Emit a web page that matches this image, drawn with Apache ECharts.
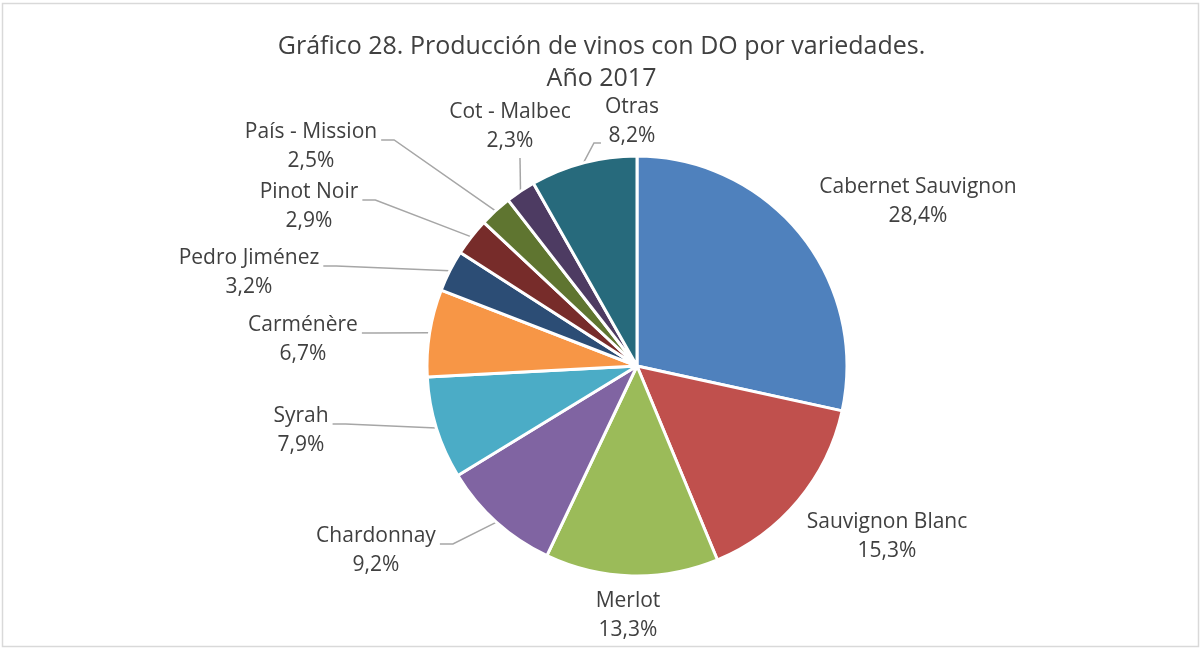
<!DOCTYPE html>
<html>
<head>
<meta charset="utf-8">
<script src="https://cdn.jsdelivr.net/npm/echarts@6/dist/echarts.min.js"></script>
<style>
  html, body { margin: 0; padding: 0; background: #fff; }
  #chart { width: 1203px; height: 651px; }
</style>
</head>
<body>
<div id="chart"></div>
<script>
// Producción de vinos con DO por variedades, 2017 (%)
const variedades = ['Cabernet Sauvignon', 'Sauvignon Blanc', 'Merlot', 'Chardonnay', 'Syrah',
    'Carménère', 'Pedro Jiménez', 'Pinot Noir', 'País - Mission', 'Cot - Malbec', 'Otras'];
const porcentajes = [28.4, 15.3, 13.3, 9.2, 7.9, 6.7, 3.2, 2.9, 2.5, 2.3, 8.2];
const colores = ['#4F81BD', '#C0504D', '#9BBB59', '#8064A2', '#4BACC6', '#F79646',
    '#2C4D75', '#772C2A', '#5F7530', '#4D3B62', '#276A7C'];

// posición de cada etiqueta (centro del bloque) y lado donde llega la línea guía
const etiquetas = [
    { x: 918, y: 202, guia: null },
    { x: 887, y: 537, guia: null },
    { x: 628, y: 616, guia: null },
    { x: 376, y: 551, guia: 'der' },
    { x: 301, y: 431, guia: 'der' },
    { x: 303, y: 340, guia: 'der' },
    { x: 249, y: 273, guia: 'der' },
    { x: 309, y: 207, guia: 'der' },
    { x: 311, y: 147, guia: 'der' },
    { x: 510, y: 127, guia: 'abajo' },
    { x: 632, y: 122, guia: 'izq' }
];

const chart = echarts.init(document.getElementById('chart'));
const FONT = '"Open Sans", "Liberation Sans", sans-serif';

chart.setOption({
    animation: false,
    graphic: [{
        type: 'rect',
        shape: { x: 2.5, y: 3.5, width: 1196, height: 643 },
        style: { fill: 'none', stroke: '#d9d9d9', lineWidth: 1.5 },
        silent: true
    }],
    title: {
        text: 'Gráfico 28. Producción de vinos con DO por variedades.\nAño 2017',
        left: 'center',
        top: 26,
        textStyle: { fontFamily: FONT, fontSize: 25, fontWeight: 'normal', color: '#404040', lineHeight: 32 }
    },
    series: [{
        type: 'pie',
        center: [637, 366],
        radius: 210,
        startAngle: 90,
        clockwise: true,
        itemStyle: { borderColor: '#fff', borderWidth: 3 },
        label: {
            show: true,
            position: 'outside',
            formatter: p => p.name + '\n' + p.value.toFixed(1).replace('.', ',') + '%',
            fontFamily: FONT,
            fontSize: 21,
            color: '#404040',
            lineHeight: 29,
            align: 'center'
        },
        labelLine: { show: true, length: 10, length2: 10, lineStyle: { color: '#a6a6a6', width: 1.5 } },
        labelLayout: function (params) {
            const e = etiquetas[params.dataIndex];
            const w = params.labelRect.width;
            const h = params.labelRect.height;
            const out = { x: e.x, y: e.y, align: 'center', verticalAlign: 'middle' };
            const pts = params.labelLinePoints;
            if (e.guia && pts) {
                const borde = pts[0];
                let fin, codo;
                if (e.guia === 'der') {
                    fin = [e.x + w / 2 + 4, e.y - 7];
                    codo = [fin[0] + 13, fin[1]];
                } else if (e.guia === 'abajo') {
                    fin = [e.x + 10, e.y + h / 2 + 2];
                    codo = fin;
                } else {
                    fin = [e.x - w / 2 - 4, e.y + 21];
                    codo = [fin[0] - 7, fin[1]];
                }
                out.labelLinePoints = [borde, codo, fin];
            }
            return out;
        },
        data: variedades.map((n, i) => ({
            name: n,
            value: porcentajes[i],
            itemStyle: { color: colores[i] },
            labelLine: { show: etiquetas[i].guia !== null }
        }))
    }]
});
</script>
</body>
</html>
